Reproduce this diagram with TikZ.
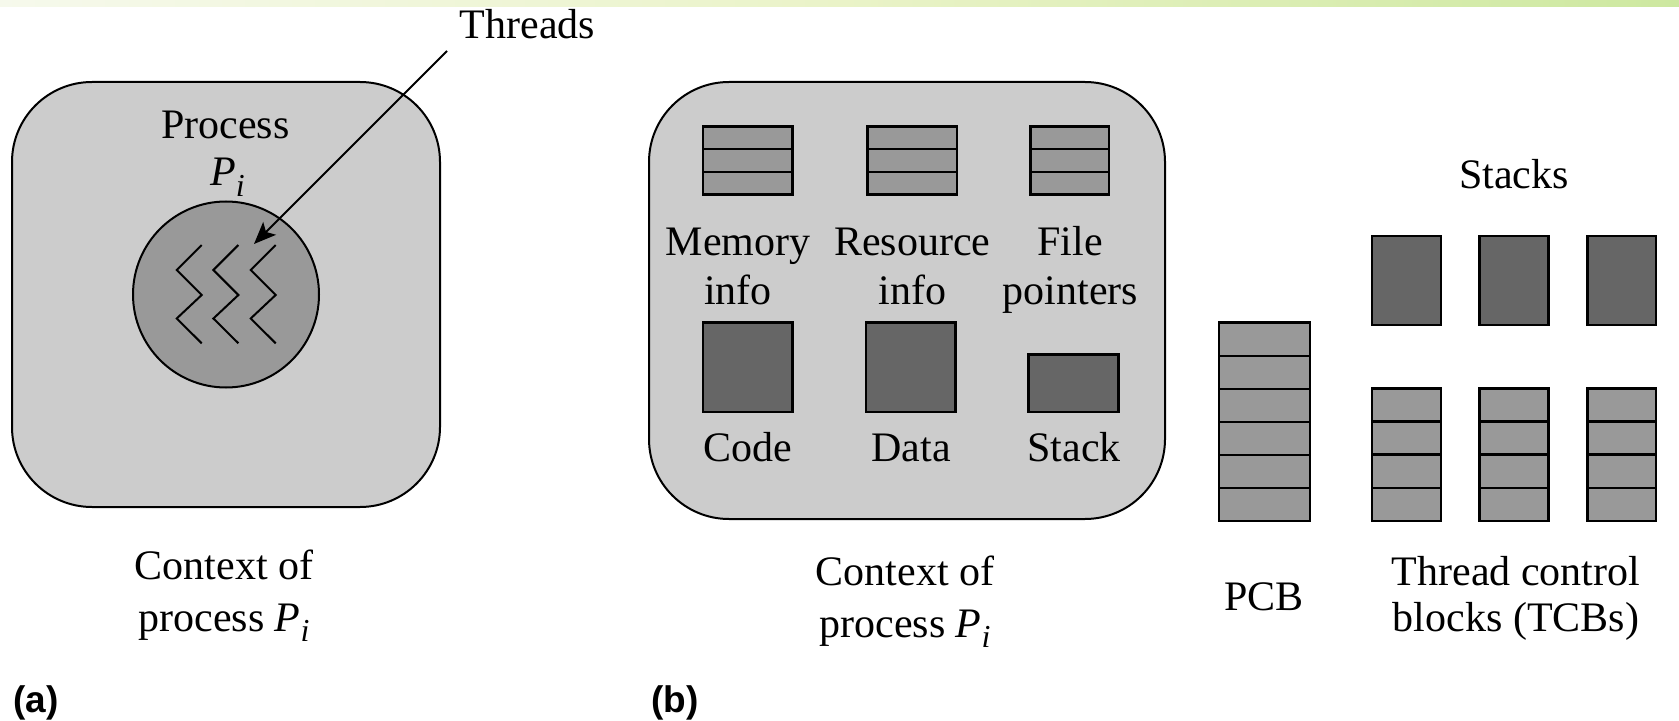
\documentclass[tikz,border=0pt]{standalone}
\usepackage{fontspec}
\setmainfont{Liberation Serif}
\newfontfamily\labfont{Liberation Sans}
\usetikzlibrary{arrows.meta}
\definecolor{ctxfill}{gray}{0.8}
\definecolor{cellfill}{gray}{0.6}
\definecolor{darkfill}{gray}{0.4}
\definecolor{barL}{HTML}{F6F9EC}
\definecolor{barM}{HTML}{EAF3C8}
\definecolor{barR}{HTML}{CDE8A0}
\newcommand\procP{\textit{P}\raisebox{-0.24em}{\fontsize{16}{16}\selectfont\textit{i}}}
\newcommand\rowbox[6]{%
  \draw[cellbox] (#1,#2) rectangle (#3,#4);
  \foreach \k in {1,...,#5}{
    \pgfmathsetmacro\yy{#2+(#4-#2)*\k/#6}
    \draw[cellline] (#1,\yy) -- (#3,\yy);
  }%
}
\tikzset{
  txt/.style={font=\fontsize{21}{26.3}\selectfont, inner sep=0pt, anchor=base},
  tag/.style={font=\labfont\bfseries\fontsize{18.5}{20}\selectfont, inner sep=0pt, anchor=base},
  ctxbox/.style={draw=black, line width=1pt, fill=ctxfill, rounded corners=40pt},
  cellbox/.style={draw=black, line width=1.2pt, fill=cellfill},
  cellline/.style={draw=black, line width=1.2pt},
  darkbox/.style={draw=black, line width=1.2pt, fill=darkfill},
  zig/.style={draw=black, line width=1pt},
}
\begin{document}
\begin{tikzpicture}[x=0.5pt,y=-0.5pt]
\useasboundingbox (0,0) rectangle (1679,721);
% top gradient bar
\shade[left color=barL, right color=barR, middle color=barM] (0,0) rectangle (1679,7);

% ---------- (a) ----------
\draw[ctxbox] (12,82) rectangle (440,507);
\node[circle, draw=black, line width=1pt, fill=cellfill, minimum size=93pt, inner sep=0pt] (thrcirc) at (226,294.5) {};
\foreach \dx in {0,36.7,74}{
  \draw[zig] (201.7+\dx,245) -- (176.7+\dx,270) -- (201.7+\dx,295) -- (176.7+\dx,318.5) -- (201.7+\dx,343.3);
}
\node[txt] (proc) at (225.5,139) {Process};
\node[txt] (procpi) at (227.5,186) {\procP};
\node[txt] (thr) at (527.5,38.3) {Threads};
\coordinate (thrtail) at (447,51);
\coordinate (thrtip) at (254,244);
\draw[line width=1pt, -{Stealth[length=11pt,width=9pt,inset=2.5pt]}] (thrtail) -- (thrtip);
\node[txt] (ctxa1) at (224,579) {Context of};
\node[txt] (ctxa2) at (224,631.7) {process \procP};
\node[tag] (taga) at (36,712) {(a)};

% ---------- (b) ----------
\draw[ctxbox] (649,82) rectangle (1165,519);
\rowbox{703}{126.5}{792.5}{194.5}{2}{3}
\rowbox{867.5}{126.5}{957}{194.5}{2}{3}
\rowbox{1030.5}{126.5}{1109}{194.5}{2}{3}
\node[txt] (mem1) at (738,256) {Memory};
\node[txt] (mem2) at (738,305) {info};
\node[txt] (res1) at (912.4,256) {Resource};
\node[txt] (res2) at (912.4,305) {info};
\node[txt] (fil1) at (1070,256) {File};
\node[txt] (fil2) at (1070.5,305) {pointers};
\draw[darkbox] (703,322.7) rectangle (792.5,411.7);
\draw[darkbox] (866,322.7) rectangle (955.5,411.7);
\draw[darkbox] (1028.6,354.3) rectangle (1118.6,411.7);
\node[txt] (code) at (748,461.7) {Code};
\node[txt] (data) at (911,461.7) {Data};
\node[txt] (stck) at (1074,461.7) {Stack};
\node[txt] (ctxb1) at (905,585) {Context of};
\node[txt] (ctxb2) at (905,637) {process \procP};

% PCB
\rowbox{1219}{322.7}{1310}{521}{5}{6}
\node[txt] (pcb) at (1264,610) {PCB};

% Stacks
\node[txt] (stacks) at (1514,188.3) {Stacks};
\draw[darkbox] (1371.7,236) rectangle (1441,325);
\draw[darkbox] (1479.3,236) rectangle (1548.3,325);
\draw[darkbox] (1587.3,236) rectangle (1656,325);

% TCBs
\rowbox{1371.7}{388.3}{1441}{521}{3}{4}
\rowbox{1479.3}{388.3}{1548.3}{521}{3}{4}
\rowbox{1587.3}{388.3}{1656}{521}{3}{4}
\node[txt] (tcb1) at (1516,585) {Thread control};
\node[txt] (tcb2) at (1516,631.7) {blocks (TCBs)};
\node[tag] (tagb) at (675,712) {(b)};
\end{tikzpicture}
\end{document}
